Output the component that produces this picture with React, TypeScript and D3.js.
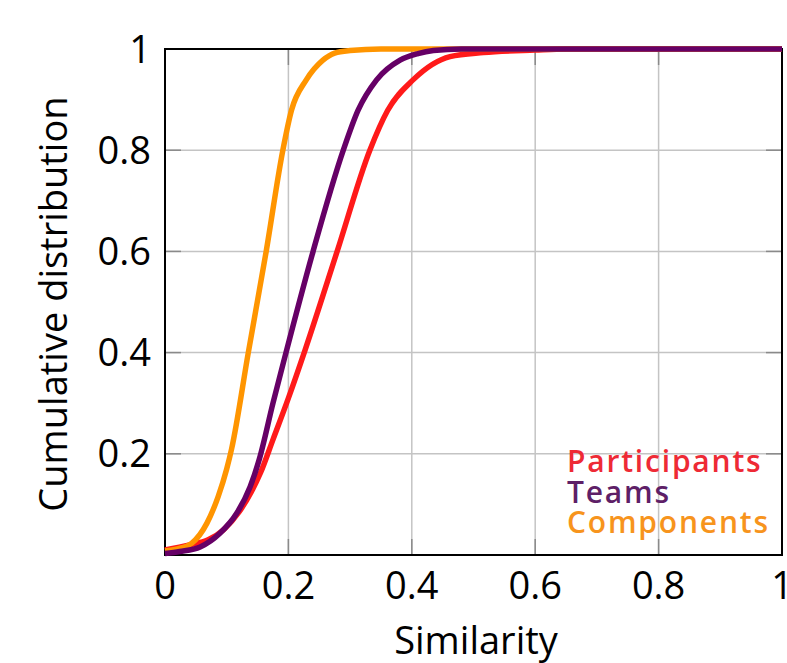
import { useEffect, useRef } from "react";
import * as d3 from "d3";

// CDF readings
const participantsX = [0, 0.04, 0.07, 0.095, 0.12, 0.14, 0.155, 0.175, 0.2, 0.227, 0.279, 0.332, 0.361, 0.402, 0.462, 0.516, 0.6, 0.65, 1];
const participantsY = [0.01, 0.02, 0.03, 0.05, 0.085, 0.125, 0.163, 0.228, 0.31, 0.405, 0.6, 0.8, 0.879, 0.939, 0.985, 0.993, 0.998, 1, 1];

const teamsX = [0, 0.024, 0.057, 0.089, 0.116, 0.138, 0.153, 0.175, 0.194, 0.24, 0.289, 0.313, 0.343, 0.381, 0.41, 0.435, 0.48, 1];
const teamsY = [0.003, 0.007, 0.016, 0.043, 0.082, 0.135, 0.19, 0.3, 0.39, 0.6, 0.8, 0.879, 0.939, 0.978, 0.991, 0.997, 1, 1];

const componentsX = [0, 0.02, 0.043, 0.068, 0.086, 0.1, 0.108, 0.135, 0.164, 0.191, 0.205, 0.229, 0.256, 0.275, 0.3, 0.35, 1];
const componentsY = [0.008, 0.012, 0.023, 0.063, 0.115, 0.17, 0.21, 0.4, 0.6, 0.8, 0.879, 0.939, 0.978, 0.992, 0.997, 1, 1];

const xTicks = [0, 0.2, 0.4, 0.6, 0.8, 1];
const yTicks = [0.2, 0.4, 0.6, 0.8, 1];
const xTickLabels = ["0", "0.2", "0.4", "0.6", "0.8", "1"];
const yTickLabels = ["0.2", "0.4", "0.6", "0.8", "1"];

const seriesNames = ["Participants", "Teams", "Components"];

export default function App() {
  const chart = useRef<SVGSVGElement>(null);

  useEffect(() => {
    const svg = d3.select(chart.current);
    svg.selectAll("*").remove();

    const margin = { top: 49, right: 5, bottom: 108, left: 165 };
    const width = 787, height = 663;
    const font = "'Open Sans', 'Noto Sans', sans-serif";

    const x = d3.scaleLinear([0, 1], [margin.left, width - margin.right]);
    const y = d3.scaleLinear([0, 1], [height - margin.bottom, margin.top]);

    const lineColors = ["#ff1a1a", "#660066", "#ff9500"];
    const textColors = ["#ee2a35", "#5e1f67", "#f7941d"];

    // grid
    const grid = svg.append("g").attr("stroke", "#c4c4c4").attr("stroke-width", 1.5);
    grid.selectAll("line.gx").data(xTicks.slice(1, -1)).join("line")
      .attr("x1", d => x(d)).attr("x2", d => x(d))
      .attr("y1", y(0)).attr("y2", y(1));
    grid.selectAll("line.gy").data(yTicks.slice(0, -1)).join("line")
      .attr("class", "gy")
      .attr("x1", x(0)).attr("x2", x(1))
      .attr("y1", d => y(d)).attr("y2", d => y(d));

    // tick marks, mirrored inside the frame
    const tl = 16;
    const ticks = svg.append("g").attr("stroke", "#8a8a8a").attr("stroke-width", 1.5);
    xTicks.slice(1, -1).forEach(t => {
      ticks.append("line").attr("x1", x(t)).attr("x2", x(t)).attr("y1", y(0)).attr("y2", y(0) - tl);
      ticks.append("line").attr("x1", x(t)).attr("x2", x(t)).attr("y1", y(1)).attr("y2", y(1) + tl);
    });
    yTicks.slice(0, -1).forEach(t => {
      ticks.append("line").attr("x1", x(0)).attr("x2", x(0) + tl).attr("y1", y(t)).attr("y2", y(t));
      ticks.append("line").attr("x1", x(1)).attr("x2", x(1) - tl).attr("y1", y(t)).attr("y2", y(t));
    });

    // frame
    svg.append("rect")
      .attr("x", x(0)).attr("y", y(1))
      .attr("width", x(1) - x(0)).attr("height", y(0) - y(1))
      .attr("fill", "none").attr("stroke", "#000").attr("stroke-width", 2);

    // curves
    const line = d3.line<[number, number]>()
      .x(d => x(d[0])).y(d => y(d[1]))
      .curve(d3.curveMonotoneX);
    const series: [number, number][][] = [
      participantsX.map((v, i) => [v, participantsY[i]]),
      componentsX.map((v, i) => [v, componentsY[i]]),
      teamsX.map((v, i) => [v, teamsY[i]]),
    ];
    const order = [0, 2, 1];
    series.forEach((s, i) => {
      svg.append("path")
        .attr("d", line(s))
        .attr("fill", "none")
        .attr("stroke", lineColors[order[i]])
        .attr("stroke-width", 5.5)
        .attr("stroke-linejoin", "round");
    });

    // tick labels
    svg.append("g").selectAll("text").data(xTicks).join("text")
      .attr("x", d => x(d)).attr("y", 599)
      .attr("text-anchor", "middle")
      .attr("font-family", font).attr("font-size", 38).attr("fill", "#000")
      .text((d, i) => xTickLabels[i]);
    svg.append("g").selectAll("text").data(yTicks).join("text")
      .attr("x", 151).attr("y", d => y(d) + 13.5)
      .attr("text-anchor", "end")
      .attr("font-family", font).attr("font-size", 38).attr("fill", "#000")
      .text((d, i) => yTickLabels[i]);

    // axis titles
    svg.append("text")
      .attr("x", 476).attr("y", 654)
      .attr("text-anchor", "middle")
      .attr("font-family", font).attr("font-size", 38)
      .text("Similarity");
    svg.append("text")
      .attr("transform", "translate(67,304) rotate(-90)")
      .attr("text-anchor", "middle")
      .attr("font-family", font).attr("font-size", 38)
      .text("Cumulative distribution");

    // legend
    svg.append("g").selectAll("text").data(seriesNames).join("text")
      .attr("x", 567).attr("y", (d, i) => 472 + i * 30.5)
      .attr("font-family", font).attr("font-size", 30).attr("font-weight", 600)
      .attr("letter-spacing", 1.8)
      .attr("fill", (d, i) => textColors[i])
      .text(d => d);
  }, []);

  return (
    <svg ref={chart} width={787} height={663}
      style={{ position: "absolute", left: 0, top: 0, background: "#fff" }} />
  );
}
